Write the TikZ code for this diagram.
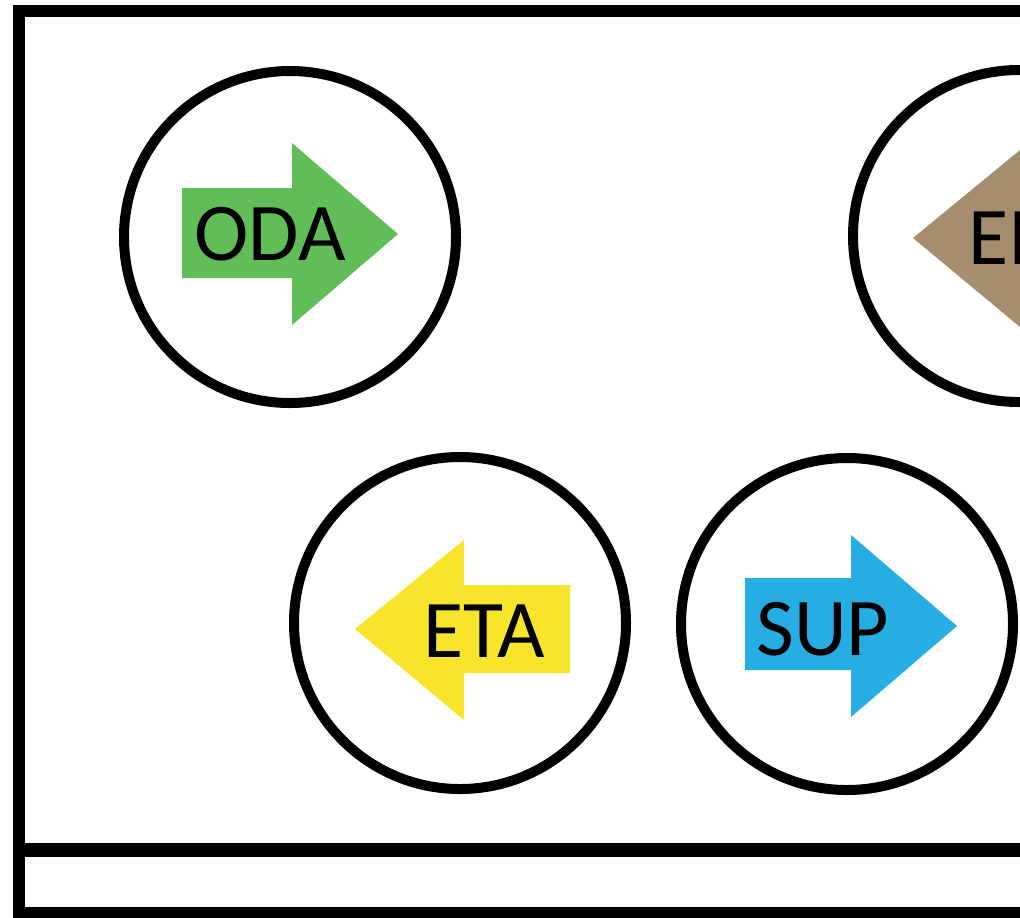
\documentclass[tikz,border=0pt]{standalone}
\usepackage{fontspec}
\setmainfont{Carlito}
\usepackage{tikz}

\definecolor{odagreen}{RGB}{96,189,88}
\definecolor{eibrown}{RGB}{166,141,110}
\definecolor{etayellow}{RGB}{248,228,42}
\definecolor{supblue}{RGB}{38,174,228}

\tikzset{
	ring/.style={circle,draw,line width=5pt,minimum size=166pt,inner sep=0pt},
	tag/.style={inner sep=0pt,font=\fontsize{41}{49}\selectfont}
}

\begin{document}
\begin{tikzpicture}[x=0.5pt,y=-0.5pt]
	\useasboundingbox (0,0) rectangle (1020,917);
	\clip (0,0) rectangle (1020,917);

	% frame
	\draw [line width=6pt,line join=miter] (1040,11) -- (19,11) -- (19,913) -- (1040,913);
	\draw [line width=7pt] (19,850) -- (1040,850);

	% rings
	\node [ring] (oda ring) at (290,237) {};
	\node [ring] (ei ring) at (1019,236) {};
	\node [ring] (eta ring) at (460,623) {};
	\node [ring] (sup ring) at (847,624) {};

	% arrows
	\fill [odagreen] (182,188) -- (292,188) -- (292,143) -- (398,234) -- (292,325) -- (292,278) -- (182,278) -- cycle;
	\fill [eibrown] (1130,194) -- (1020,194) -- (1020,150) -- (913,238) -- (1020,327) -- (1020,282) -- (1130,282) -- cycle;
	\fill [etayellow] (570,585) -- (464,585) -- (464,540) -- (355,629) -- (464,720) -- (464,673) -- (570,673) -- cycle;
	\fill [supblue] (745,578) -- (851,578) -- (851,535) -- (957,626) -- (851,717) -- (851,670) -- (745,670) -- cycle;

	% labels
	\node [tag] (oda) at (270,234) {ODA};
	\node [tag,anchor=west] (ei) at (968,238) {EI};
	\node [tag] (eta) at (484,631) {ETA};
	\node [tag] (sup) at (823,629) {SUP};

\end{tikzpicture}
\end{document}
